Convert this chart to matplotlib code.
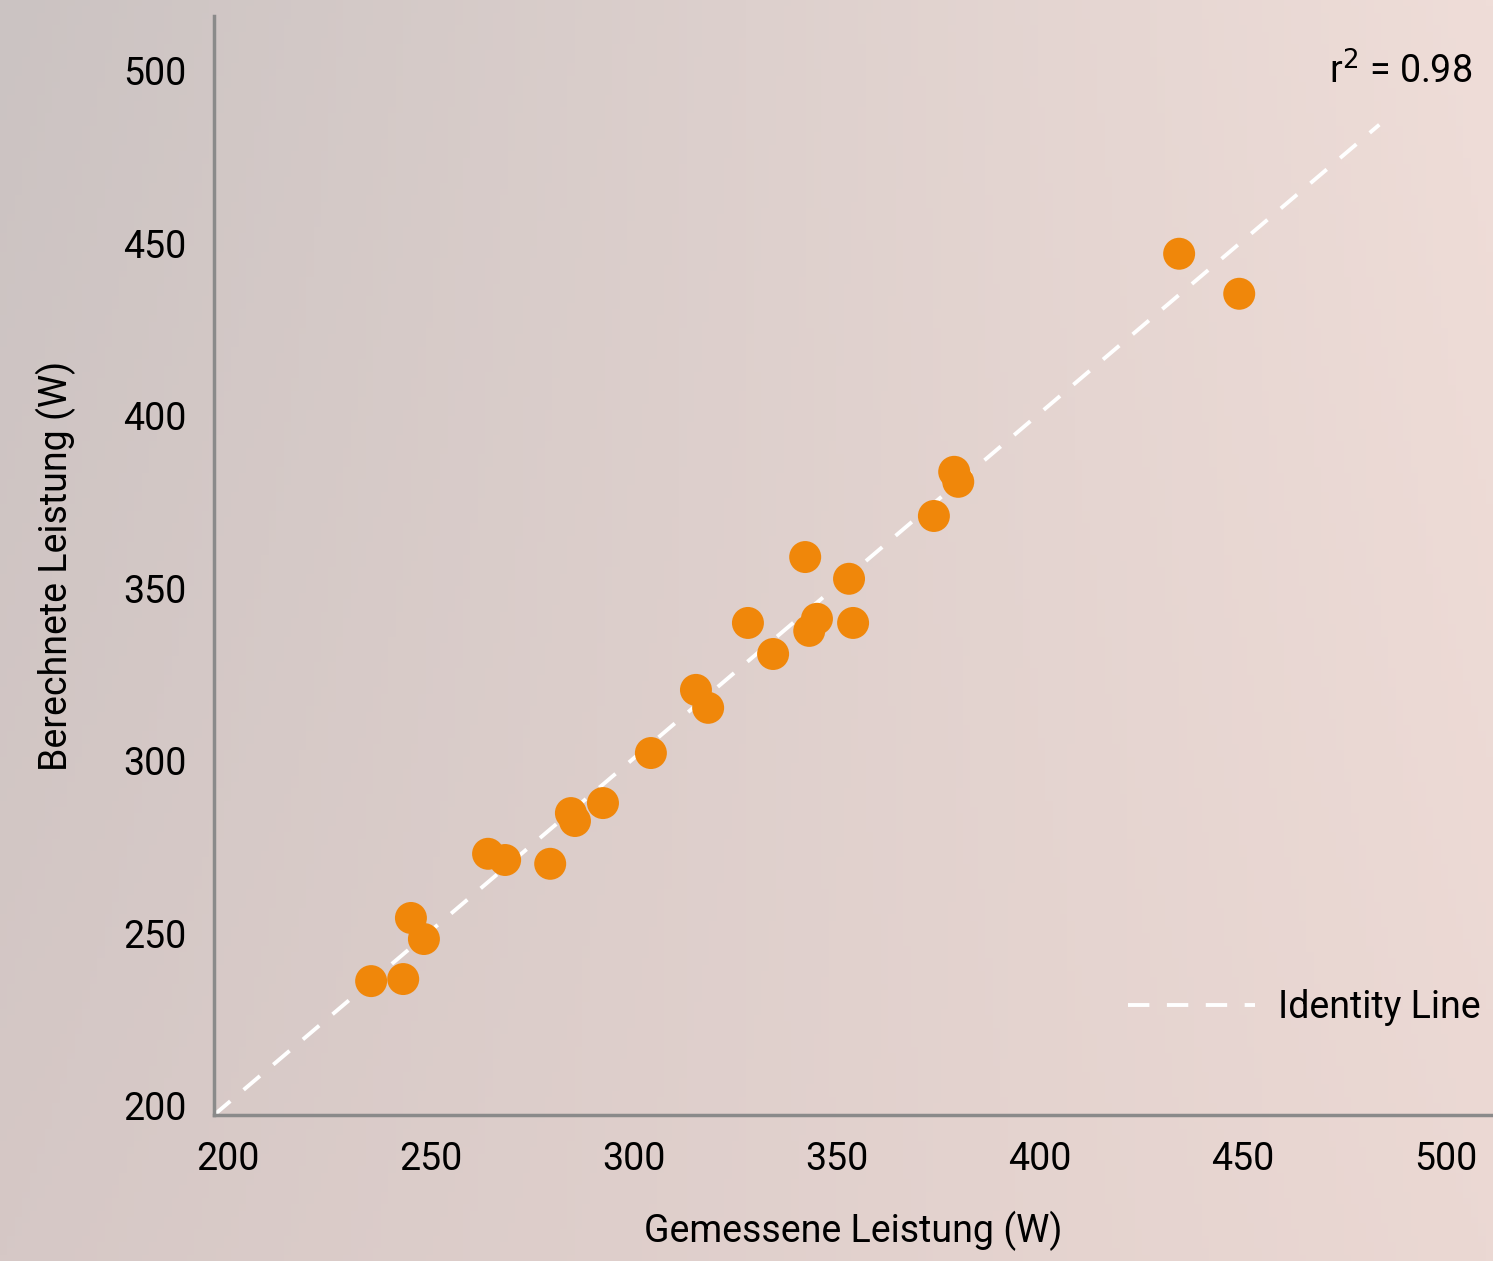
import numpy as np
import matplotlib.pyplot as plt
import matplotlib.transforms as mtransforms

# Messwerte (W)
gemessen = [238.7, 246.6, 248.5, 251.7, 267.5, 271.7, 282.8, 287.9, 288.9, 295.8,
            307.6, 318.7, 321.7, 331.5, 337.7, 345.6, 346.6, 348.5, 356.4, 357.4,
            377.3, 382.3, 383.3, 437.7, 452.5]
berechnet = [238.8, 239.4, 257.1, 251.0, 275.7, 273.9, 272.8, 287.5, 285.2, 290.4,
             304.9, 323.2, 318.0, 342.6, 333.6, 361.7, 340.3, 343.8, 355.4, 342.6,
             373.6, 386.4, 383.5, 449.6, 438.0]
identity = [200, 487]
ticks = [200, 250, 300, 350, 400, 450, 500]
r2 = 0.98

plt.rcParams['font.family'] = ['Roboto', 'DejaVu Sans']
fs = 27

fig = plt.figure(figsize=(14.93, 12.61), dpi=100)

# Hintergrund-Verlauf
bg = fig.add_axes([0, 0, 1, 1], zorder=-10)
corners = np.array([[[0xcb, 0xc3, 0xc2], [0xef, 0xdd, 0xd8]],
                    [[0xd6, 0xc8, 0xc6], [0xeb, 0xd8, 0xd3]]]) / 255.0
t = np.linspace(0, 1, 200)
u, v = np.meshgrid(t, t)
img = ((1 - u)[..., None] * (1 - v)[..., None] * corners[0, 0]
       + u[..., None] * (1 - v)[..., None] * corners[0, 1]
       + (1 - u)[..., None] * v[..., None] * corners[1, 0]
       + u[..., None] * v[..., None] * corners[1, 1])
bg.imshow(img, aspect='auto', extent=[0, 1, 0, 1], origin='upper')
bg.axis('off')

ax = fig.add_axes([214 / 1493, 146 / 1261, 1 - 214 / 1493, (1115 - 16) / 1261])
ax.patch.set_alpha(0)

ax.plot(identity, identity, color='white', lw=2.8, dashes=(5.5, 4.5),
        label='Identity Line', zorder=2)
ax.scatter(gemessen, berechnet, s=530, color='#f0870a', edgecolors='none', zorder=3)

ax.set_xlim(200, 515)
ax.set_ylim(200, 518.5)
ax.set_xticks(ticks)
ax.set_yticks(ticks)
ax.tick_params(length=0, labelsize=fs, colors='black')
ax.tick_params(axis='x', pad=19)
ax.tick_params(axis='y', pad=20)

# Beschriftungen leicht versetzt wie im Original
for lab in ax.get_xticklabels():
    lab.set_transform(lab.get_transform() +
                      mtransforms.ScaledTranslation(14 / 100, 0, fig.dpi_scale_trans))
for lab in ax.get_yticklabels():
    lab.set_transform(lab.get_transform() +
                      mtransforms.ScaledTranslation(0, 9 / 100, fig.dpi_scale_trans))

for side in ['top', 'right']:
    ax.spines[side].set_visible(False)
for side in ['left', 'bottom']:
    ax.spines[side].set_color('#8a8a8a')
    ax.spines[side].set_linewidth(2.5)

ax.set_xlabel('Gemessene Leistung (W)', fontsize=fs, labelpad=23)
ax.set_ylabel('Berechnete Leistung (W)', fontsize=fs, labelpad=34)

ax.text(0.984, 0.949, 'r$^2$ = %.2f' % r2, transform=ax.transAxes,
        ha='right', va='center', fontsize=fs)

leg = ax.legend(loc='center right', bbox_to_anchor=(0.99, 0.098), frameon=False,
                fontsize=fs, handlelength=3.4, handletextpad=0.6,
                borderaxespad=0, borderpad=0)

fig.savefig('out.png', dpi=100)
